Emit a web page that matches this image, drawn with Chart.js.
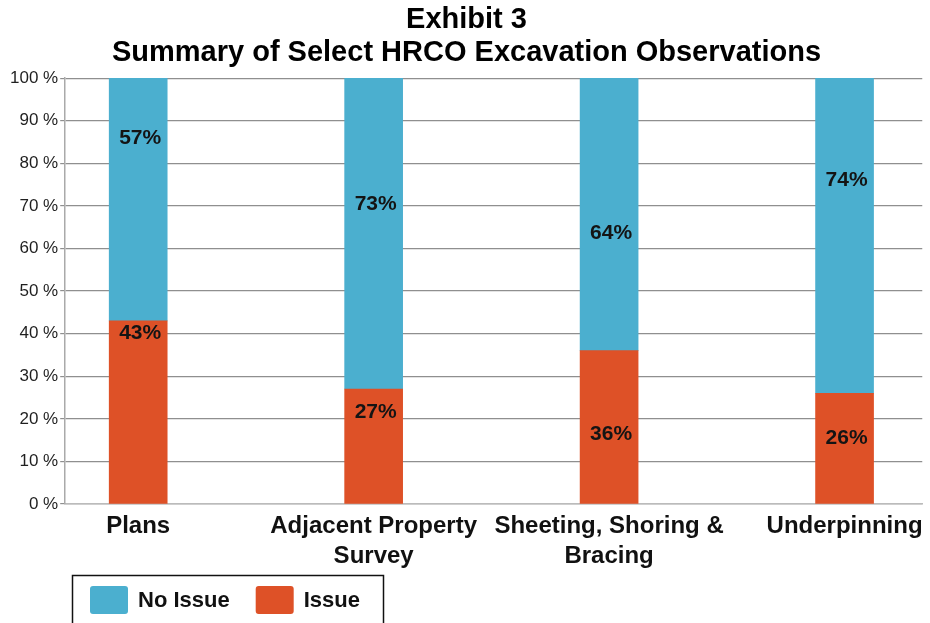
<!DOCTYPE html>
<html>
<head>
<meta charset="utf-8">
<script src="https://cdn.jsdelivr.net/npm/chart.js@4/dist/chart.umd.min.js"></script>
<style>
  html, body { margin: 0; padding: 0; background: #fff; }
  #wrap { width: 930px; height: 623px; position: relative; }
</style>
</head>
<body>
<div id="wrap"><canvas id="chart"></canvas></div>
<script>
let categories = ["Plans", "Adjacent Property Survey", "Sheeting, Shoring & Bracing", "Underpinning"];
let categoryLines = [["Plans"], ["Adjacent Property", "Survey"], ["Sheeting, Shoring &", "Bracing"], ["Underpinning"]];
let issue = [43, 27, 36, 26];
let noIssue = [57, 73, 64, 74];
let yTicks = [0, 10, 20, 30, 40, 50, 60, 70, 80, 90, 100];

// where the percent labels sit (in % units)
let issueLabelAt = [40, 21.5, 16.5, 15.5];
let noIssueLabelAt = [86, 70.5, 63.5, 76];

let blue = "#4BAFCF";
let orange = "#DE5127";
let font = "'Liberation Sans', Arial, sans-serif";

// percent labels on the bars
const barLabels = {
    id: "barLabels",
    afterDatasetsDraw(chart) {
        const ctx = chart.ctx;
        const y = chart.scales.y;
        ctx.save();
        ctx.font = "bold 21px " + font;
        ctx.fillStyle = "#141414";
        ctx.textAlign = "center";
        ctx.textBaseline = "middle";
        chart.data.datasets.forEach((ds, i) => {
            const meta = chart.getDatasetMeta(i);
            meta.data.forEach((bar, j) => {
                ctx.fillText(ds.data[j].y + "%", bar.x + 2, y.getPixelForValue(ds.labelAt[j]));
            });
        });
        ctx.restore();
    }
};

// boxed legend at the bottom left
const boxLegend = {
    id: "boxLegend",
    afterDraw(chart) {
        const ctx = chart.ctx;
        ctx.save();
        ctx.strokeStyle = "#111";
        ctx.lineWidth = 1.5;
        ctx.strokeRect(72.5, 575.5, 311, 60);
        ctx.font = "bold 22px " + font;
        ctx.textBaseline = "middle";
        let x = 90;
        // legend order: No Issue first, then Issue
        [1, 0].forEach(i => {
            const ds = chart.data.datasets[i];
            ctx.fillStyle = ds.backgroundColor;
            ctx.beginPath();
            ctx.roundRect(x, 586, 38, 28, 3);
            ctx.fill();
            x += 48;
            ctx.fillStyle = "#111";
            ctx.fillText(ds.label, x, 601);
            x += ctx.measureText(ds.label).width + 26;
        });
        ctx.restore();
    }
};

new Chart(document.getElementById("chart"), {
    type: "bar",
    data: {
        datasets: [
            {
                label: "Issue",
                data: categories.map((c, i) => ({ x: i, y: issue[i] })),
                labelAt: issueLabelAt,
                backgroundColor: orange,
                barThickness: 58
            },
            {
                label: "No Issue",
                data: categories.map((c, i) => ({ x: i, y: noIssue[i] })),
                labelAt: noIssueLabelAt,
                backgroundColor: blue,
                barThickness: 58
            }
        ]
    },
    options: {
        responsive: true,
        maintainAspectRatio: false,
        animation: false,
        layout: { padding: { left: 8, right: 5, top: 0, bottom: 45 } },
        plugins: {
            legend: { display: false },
            tooltip: { enabled: false },
            title: {
                display: true,
                text: ["Exhibit 3", "Summary of Select HRCO Excavation Observations"],
                color: "#000",
                font: { family: font, size: 29, weight: "bold", lineHeight: 1.14 },
                padding: { top: 3, bottom: 9 }
            }
        },
        scales: {
            x: {
                type: "linear",
                stacked: true,
                offset: false,
                min: -0.31,
                max: 3.33,
                afterBuildTicks: scale => {
                    scale.ticks = categories.map((c, i) => ({ value: i }));
                },
                ticks: {
                    autoSkip: false,
                    maxRotation: 0,
                    padding: 7,
                    color: "#111",
                    font: { family: font, size: 24, weight: "bold", lineHeight: 1.25 },
                    callback: v => categoryLines[v]
                },
                grid: { display: false, drawTicks: false, offset: false },
                border: { display: true, color: "#bbb", width: 1.5 }
            },
            y: {
                stacked: true,
                min: 0,
                max: 100,
                afterBuildTicks: scale => {
                    scale.ticks = yTicks.map(v => ({ value: v }));
                },
                ticks: {
                    padding: 2,
                    color: "#1f1f1f",
                    font: { family: font, size: 17 },
                    callback: v => v + " %"
                },
                grid: { color: "#8f8f8f", lineWidth: 1.2, tickLength: 5 },
                border: { color: "#aaa", width: 1.5 }
            }
        }
    },
    plugins: [barLabels, boxLegend]
});
</script>
</body>
</html>
